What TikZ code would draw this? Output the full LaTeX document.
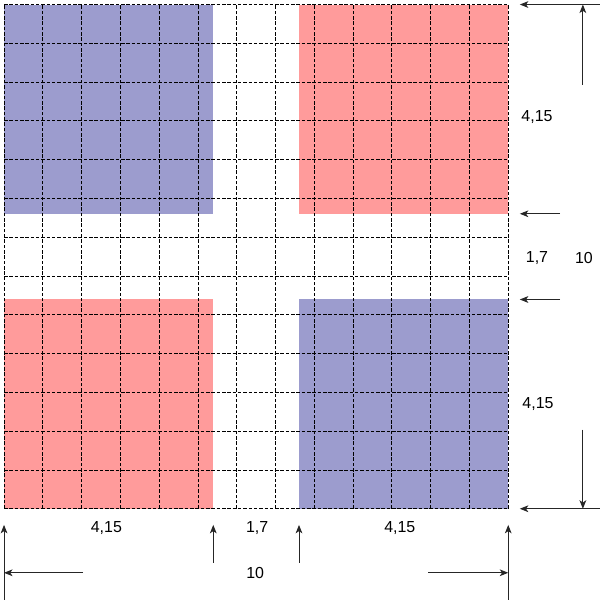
\documentclass[tikz,border=0pt]{standalone}
\usepackage{fontspec}
\setmainfont{Liberation Sans}
\usetikzlibrary{arrows.meta, positioning}

\definecolor{squareblue}{RGB}{156,156,206}
\definecolor{squarered}{RGB}{255,155,155}

\begin{document}
\begin{tikzpicture}[
    >={Stealth[length=4.8pt,width=3.8pt,inset=1.3pt]},
    gridline/.style={dashed, dash pattern=on 2pt off 1pt, line width=0.45pt, black},
    dimline/.style={->, line width=0.55pt, black!85},
    dimlabel/.style={font=\fontsize{9}{11}\selectfont, inner sep=0pt}
]

\useasboundingbox (-0.08,-1.80) rectangle (11.82,10.09);

% Squares
\fill[squareblue] (0,5.85) rectangle (4.15,10);
\fill[squarered]  (5.85,5.85) rectangle (10,10);
\fill[squarered]  (0,0) rectangle (4.15,4.15);
\fill[squareblue] (5.85,0) rectangle (10,4.15);

% Grid
\foreach \k in {0,...,13}{
    \draw[gridline] ({\k*10/13},0) -- ({\k*10/13},10);
    \draw[gridline] (0,{\k*10/13}) -- (10,{\k*10/13});
}

% Coordinates
\coordinate (rtop)   at (11.82,10);
\coordinate (rtopt)  at (10.23,10);
\coordinate (rup)    at (11.03,5.85);
\coordinate (rupt)   at (10.23,5.85);
\coordinate (rlow)   at (11.03,4.15);
\coordinate (rlowt)  at (10.23,4.15);
\coordinate (rbot)   at (11.82,0);
\coordinate (rbott)  at (10.23,0);
\coordinate (vtop)   at (11.48,8.41);
\coordinate (vtopt)  at (11.48,10);
\coordinate (vbot)   at (11.48,1.57);
\coordinate (vbott)  at (11.48,0);

\coordinate (bl)     at (0,-1.80);
\coordinate (blt)    at (0,-0.32);
\coordinate (bml)    at (4.15,-1.07);
\coordinate (bmlt)   at (4.15,-0.32);
\coordinate (bmr)    at (5.85,-1.07);
\coordinate (bmrt)   at (5.85,-0.32);
\coordinate (br)     at (10,-1.80);
\coordinate (brt)    at (10,-0.32);
\coordinate (hl)     at (1.57,-1.27);
\coordinate (hlt)    at (0,-1.27);
\coordinate (hr)     at (8.41,-1.27);
\coordinate (hrt)    at (10,-1.27);

% Labels
\node[dimlabel] (rfirst)  at (10.57,7.77) {4,15};
\node[dimlabel] (rgap)    at (10.57,4.98) {1,7};
\node[dimlabel] (rtotal)  at (11.50,4.98) {10};
\node[dimlabel] (rsecond) at (10.59,2.08) {4,15};
\node[dimlabel] (bfirst)  at (2.03,-0.38) {4,15};
\node[dimlabel] (bgap)    at (5.02,-0.38) {1,7};
\node[dimlabel] (bsecond) at (7.85,-0.38) {4,15};
\node[dimlabel] (btotal)  at (4.98,-1.27) {10};

% Dimension arrows
\draw[dimline] (rtop) -- (rtopt);
\draw[dimline] (rup) -- (rupt);
\draw[dimline] (rlow) -- (rlowt);
\draw[dimline] (rbot) -- (rbott);
\draw[dimline] (vtop) -- (vtopt);
\draw[dimline] (vbot) -- (vbott);

\draw[dimline] (bl) -- (blt);
\draw[dimline] (bml) -- (bmlt);
\draw[dimline] (bmr) -- (bmrt);
\draw[dimline] (br) -- (brt);
\draw[dimline] (hl) -- (hlt);
\draw[dimline] (hr) -- (hrt);

\end{tikzpicture}
\end{document}
